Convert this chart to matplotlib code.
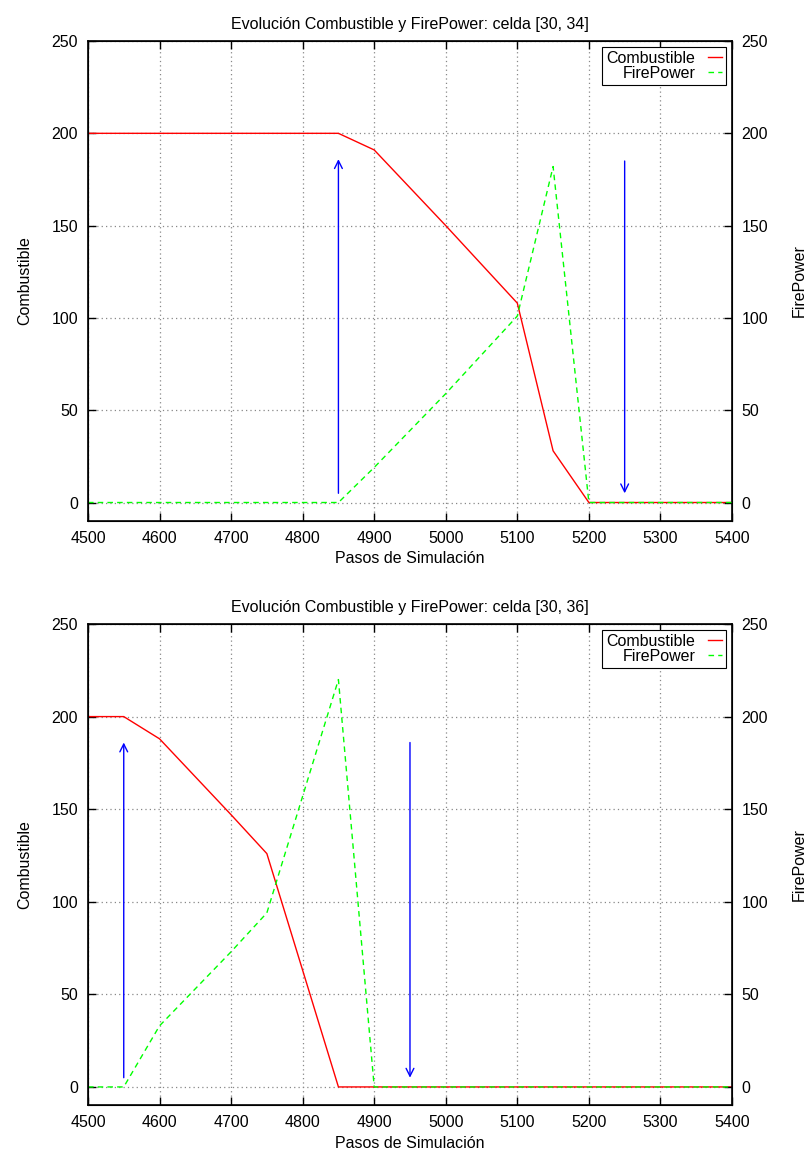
import matplotlib
matplotlib.use("Agg")
import matplotlib.pyplot as plt

plt.rcParams["font.family"] = ["Liberation Sans", "DejaVu Sans"]
plt.rcParams["font.size"] = 11.5

# celda [30, 34]
pasos_a = [4500, 4550, 4600, 4650, 4700, 4750, 4800, 4850, 4900, 5000, 5100, 5150, 5200, 5250, 5300, 5350, 5400]
comb_a = [200, 200, 200, 200, 200, 200, 200, 200, 191, 150, 108, 28, 0, 0, 0, 0, 0]
fire_a = [0, 0, 0, 0, 0, 0, 0, 0, 19, 59, 101, 182, 0, 0, 0, 0, 0]
flechas_a = [(4850, 5, 186), (5250, 185, 5)]

# celda [30, 36]
pasos_b = [4500, 4550, 4600, 4700, 4750, 4850, 4900, 5000, 5100, 5200, 5300, 5400]
comb_b = [200, 200, 188, 147, 126, 0, 0, 0, 0, 0, 0, 0]
fire_b = [0, 0, 33, 73, 94, 220, 0, 0, 0, 0, 0, 0]
flechas_b = [(4550, 5, 186), (4950, 186, 5)]

xticks = [4500, 4600, 4700, 4800, 4900, 5000, 5100, 5200, 5300, 5400]
yticks = [0, 50, 100, 150, 200, 250]


def panel(fig, rect, pasos, comb, fire, flechas, celda):
    ax = fig.add_axes(rect)
    ax2 = ax.twinx()
    l1, = ax.plot(pasos, comb, color="#ff0000", lw=1, label="Combustible")
    l2, = ax2.plot(pasos, fire, color="#00ff00", lw=1, ls=(0, (4, 3)), label="FirePower")
    for x, y0, y1 in flechas:
        ax.annotate("", xy=(x, y1), xytext=(x, y0),
                    arrowprops=dict(arrowstyle="->", color="#0000ff", lw=1,
                                    mutation_scale=14, shrinkA=0, shrinkB=0))
    for a in (ax, ax2):
        a.set_xlim(4500, 5400)
        a.set_ylim(-10, 250)
        a.set_yticks(yticks)
        a.tick_params(direction="in", length=6, width=1, pad=7)
    ax.set_xticks(xticks)
    ax.tick_params(top=True, right=False)
    ax.grid(True, color="#888888", ls=(0, (1, 2.5)), lw=0.9)
    ax.set_title("Evolución Combustible y FirePower: celda " + celda, pad=9, fontsize=11.5)
    ax.set_xlabel("Pasos de Simulación", labelpad=4)
    ax.set_ylabel("Combustible", labelpad=14)
    ax2.set_ylabel("FirePower", labelpad=17)
    for s in ax.spines.values():
        s.set_linewidth(1.2)
    leg = ax2.legend([l1, l2], ["Combustible", "FirePower"], loc="upper right",
                     markerfirst=False, fancybox=False, framealpha=1,
                     edgecolor="black", borderaxespad=0.35, handlelength=0.9,
                     handletextpad=0.8, borderpad=0.25, labelspacing=0.0,
                     fontsize=11.5)
    leg.get_frame().set_linewidth(0.8)
    for t in leg.get_texts():
        t.set_ha("right")
    leg._legend_box.align = "right"


fig = plt.figure(figsize=(8.1, 11.59), dpi=100)
panel(fig, [0.1086, 0.5505, 0.7951, 0.4141], pasos_a, comb_a, fire_a, flechas_a, "[30, 34]")
panel(fig, [0.1086, 0.0462, 0.7951, 0.4154], pasos_b, comb_b, fire_b, flechas_b, "[30, 36]")
fig.savefig("out.png", dpi=100)
